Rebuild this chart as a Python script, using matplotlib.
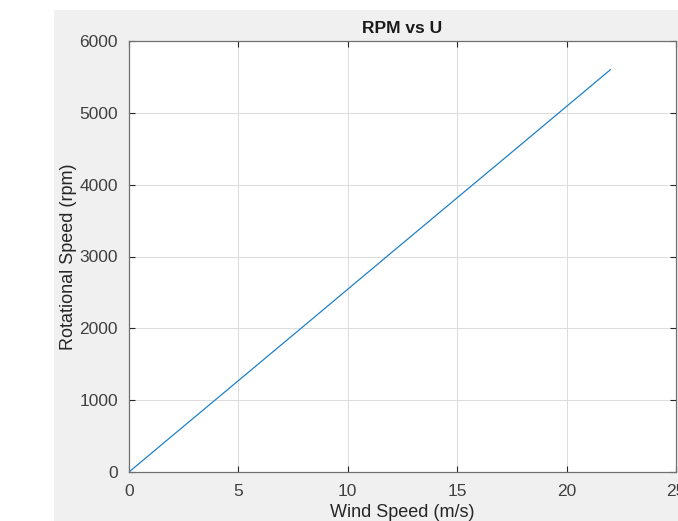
import matplotlib
matplotlib.use("Agg")
import matplotlib.pyplot as plt
from matplotlib.patches import Rectangle

plt.rcParams["font.family"] = ["Liberation Sans", "DejaVu Sans"]

# wind speed (m/s) and rotational speed (rpm)
wind = [0, 2, 5, 8, 10, 12, 15, 18, 20, 22]
rpm = [0, 510, 1272, 2035, 2545, 3055, 3818, 4580, 5090, 5600]

xticks = [0, 5, 10, 15, 20, 25]
yticks = [0, 1000, 2000, 3000, 4000, 5000, 6000]

fig = plt.figure(figsize=(6.78, 5.21), dpi=100)
fig.patch.set_facecolor('white')
# matlab figure background, offset as in the screenshot
fig.patches.append(Rectangle((54/678., 0), 1 - 54/678., 1 - 10/521., transform=fig.transFigure,
                             facecolor='#f0f0f0', edgecolor='none', zorder=-10))

ax = fig.add_axes([129/678., 49/521., (676-129)/678., (472-41)/521.])
ax.set_facecolor('white')
ax.plot(wind, rpm, color='#1f80c8', lw=0.9)

ax.set_xlim(0, 25)
ax.set_ylim(0, 6000)
ax.set_xticks(xticks)
ax.set_yticks(yticks)
ax.grid(True, color='#dcdcdc', lw=0.7)
ax.set_axisbelow(True)
ax.tick_params(direction='in', top=True, right=True, length=4, width=0.8,
               colors='#262626', labelsize=12.5, labelcolor='#404040')
ax.tick_params(axis='x', pad=9)
ax.tick_params(axis='y', pad=8)
for s in ax.spines.values():
    s.set_color('#707070')
    s.set_linewidth(0.9)

ax.set_title('RPM vs U', fontsize=12.5, fontweight='bold', color='#1a1a1a', pad=6)
ax.set_xlabel('Wind Speed (m/s)', fontsize=13, color='#262626', labelpad=3)
ax.set_ylabel('Rotational Speed (rpm)', fontsize=13, color='#262626')
ax.yaxis.set_label_coords(-0.095, 0.5)

fig.savefig('out.png', dpi=100, facecolor=fig.get_facecolor())
